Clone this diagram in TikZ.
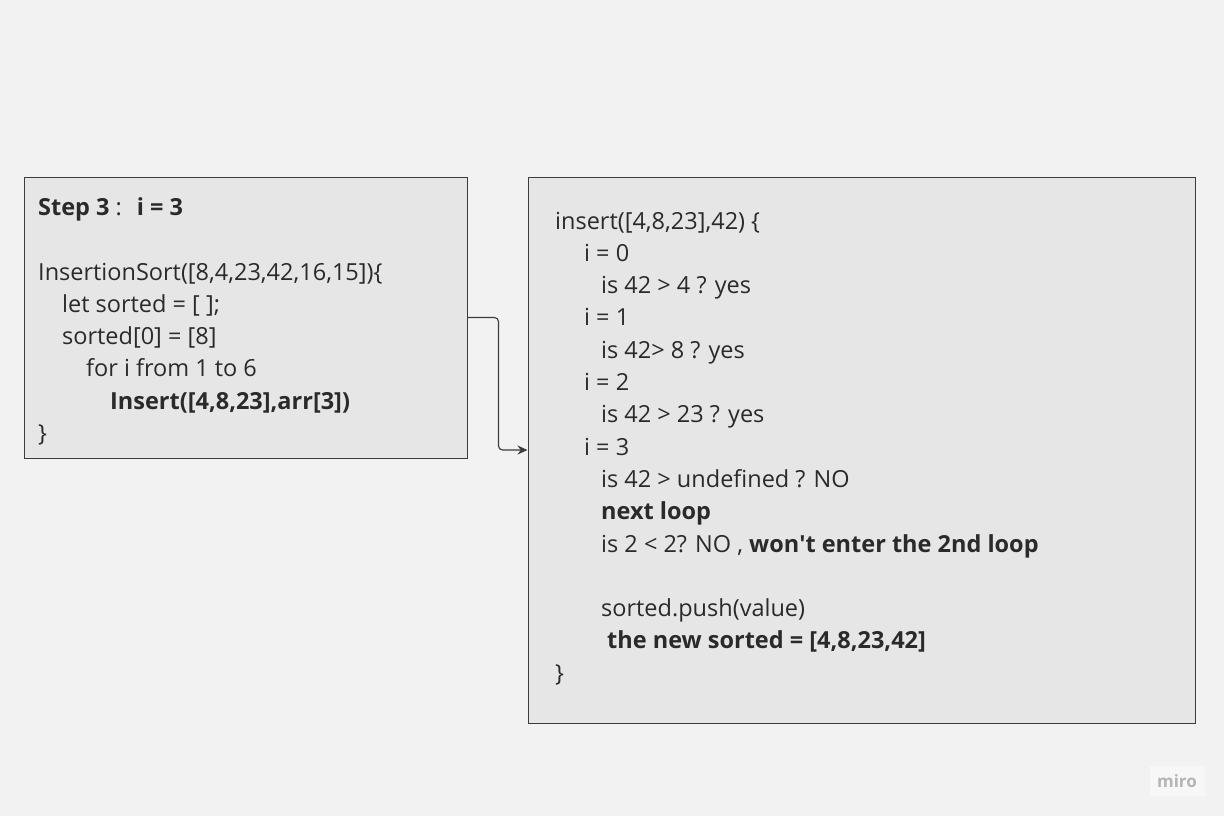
\documentclass[tikz,border=0pt]{standalone}
\usepackage{fontspec}
\setmainfont{Open Sans}[BoldFont={Open Sans Bold}]
\usetikzlibrary{arrows.meta, positioning}

\definecolor{bgcolor}{HTML}{F2F2F2}
\definecolor{boxcolor}{HTML}{E6E6E6}
\definecolor{edgecolor}{HTML}{3C3C3C}
\definecolor{txtcolor}{HTML}{2A2A2A}
\definecolor{logocolor}{HTML}{B4B4B4}

\begin{document}
\begin{tikzpicture}[x=1pt, y=-1pt,
    codebox/.style={rectangle, draw=edgecolor, line width=1pt, fill=boxcolor, inner sep=0pt},
    codeline/.style={anchor=base west, inner sep=0pt, text=txtcolor, font=\fontsize{23.5}{28}\selectfont},
    arrow/.style={-{Stealth[length=10pt, width=9pt]}, line width=1.1pt, edgecolor, rounded corners=4pt}
]

% Background
\fill[bgcolor] (0,0) rectangle (1224,816);
\useasboundingbox (0,0) rectangle (1224,816);

% Step 3 box
\node[codebox, minimum width=443pt, minimum height=281pt] (lbox) at (245.5,317.5) {};
\node[codeline] (step) at (38,215) {\textbf{Step 3}\hspace{6pt}:\hspace{15pt}\textbf{i = 3}};
\node[codeline] (sortcall) at (38,280) {InsertionSort([8,4,23,42,16,15])\{};
\node[codeline] (letsorted) at (62,312.3) {let sorted = [ ];};
\node[codeline] (sortedzero) at (62,344.6) {sorted[0] = [8]};
\node[codeline] (forloop) at (86,376.9) {for i from 1 to 6};
\node[codeline] (insertcall) at (110,409.2) {\textbf{Insert([4,8,23],arr[3])}};
\node[codeline] (lclose) at (38,441.5) {\}};

% insert box
\node[codebox, minimum width=667pt, minimum height=546pt] (rbox) at (861.5,450) {};
\node[codeline] (insdef) at (555,229) {insert([4,8,23],42) \{};
\node[codeline] (izero) at (584,261.3) {i = 0};
\node[codeline] (qzero) at (601,293.6) {is 42 > 4 ? yes};
\node[codeline] (ione) at (584,325.9) {i = 1};
\node[codeline] (qone) at (601,358.2) {is 42> 8 ? yes};
\node[codeline] (itwo) at (584,390.5) {i = 2};
\node[codeline] (qtwo) at (601,422.8) {is 42 > 23 ? yes};
\node[codeline] (ithree) at (584,455.1) {i = 3};
\node[codeline] (qthree) at (601,487.4) {is 42 > undefined ? NO};
\node[codeline] (nextloop) at (601,519.7) {\textbf{next loop}};
\node[codeline] (qloop) at (601,552) {is 2 < 2? NO , \textbf{won\textquotesingle t enter the 2nd loop}};
\node[codeline] (push) at (601,616.6) {sorted.push(value)};
\node[codeline] (newsorted) at (607,648.9) {\textbf{the new sorted = [4,8,23,42]}};
\node[codeline] (rclose) at (555,681.2) {\}};

% Connector
\draw[arrow] (lbox.east) -- ++(31,0) |- (rbox.west);

% miro mark
\node[fill=bgcolor!60!white, minimum width=55pt, minimum height=30pt, inner sep=0pt,
      text=logocolor, font=\fontsize{17}{20}\selectfont\bfseries] (logo) at (1177,781) {miro};

\end{tikzpicture}
\end{document}
